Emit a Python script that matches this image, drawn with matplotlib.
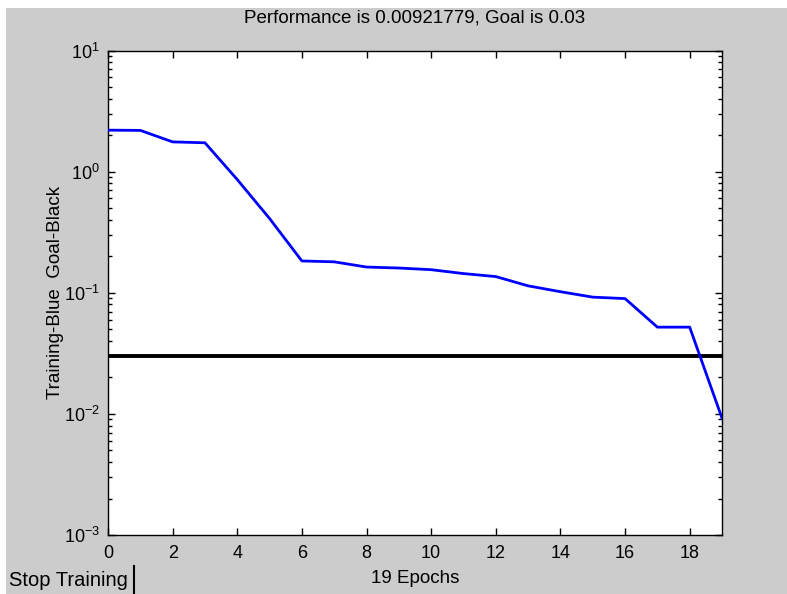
import matplotlib
matplotlib.use("Agg")
import matplotlib.pyplot as plt
from matplotlib.patches import Rectangle
from matplotlib.lines import Line2D
import matplotlib.ticker as mticker
from matplotlib import font_manager

# ---- data ----
epochs = list(range(0, 20))
performance = [2.20, 2.19, 1.76, 1.73, 0.86, 0.41, 0.183, 0.180, 0.163, 0.160,
               0.155, 0.144, 0.136, 0.114, 0.102, 0.092, 0.0895, 0.052, 0.052, 0.00921779]
goal = 0.03
xticks = [0, 2, 4, 6, 8, 10, 12, 14, 16, 18]
title_text = "Performance is 0.00921779, Goal is 0.03"
ylabel_text = "Training-Blue  Goal-Black"
xlabel_text = "19 Epochs"
button_text = "Stop Training"

avail = {f.name for f in font_manager.fontManager.ttflist}
fam = "Liberation Sans Narrow" if "Liberation Sans Narrow" in avail else "Liberation Sans"
plt.rcParams['font.family'] = [fam, 'DejaVu Sans']

W, H = 787, 594
gray = "#cccccc"
fig = plt.figure(figsize=(W / 100, H / 100), dpi=100, facecolor=gray)
# white border strips at top and left
fig.add_artist(Rectangle((0, 1 - 8 / H), 1, 8 / H, transform=fig.transFigure,
                         facecolor="white", edgecolor="none"))
fig.add_artist(Rectangle((0, 0), 6 / W, 1, transform=fig.transFigure,
                         facecolor="white", edgecolor="none"))

ax = fig.add_axes([108 / W, 59 / H, 614 / W, 484.5 / H])
ax.set_facecolor("white")
ax.plot(epochs, performance, color="#0000ff", lw=2.0, zorder=3)
ax.axhline(goal, color="black", lw=2.8, zorder=2)
ax.set_yscale("log")
ax.set_ylim(1e-3, 1e1)
ax.set_xlim(0, 19)
ax.set_xticks(xticks)
ax.set_xticklabels([str(t) for t in xticks])
ax.yaxis.set_major_locator(mticker.LogLocator(base=10, numticks=10))
ax.yaxis.set_minor_locator(mticker.LogLocator(base=10, subs=range(2, 10), numticks=20))
ax.yaxis.set_minor_formatter(mticker.NullFormatter())
ax.tick_params(which="both", direction="in", top=True, right=True, labelsize=13, colors="black")
ax.tick_params(which="major", length=5, width=1)
ax.tick_params(axis="x", which="major", pad=7)
ax.tick_params(axis="y", which="major", pad=6)
ax.tick_params(which="minor", length=3, width=1)
for s in ax.spines.values():
    s.set_linewidth(1.0)
fig.text(0.5 * (108 + 722) / W, 1 - 18 / H, title_text, fontsize=13.5, ha="center", va="center")
ax.set_xlabel(xlabel_text, fontsize=13.5, labelpad=6)
ax.set_ylabel(ylabel_text, fontsize=13.5, labelpad=0)

# Stop Training button
fig.text(9 / W, 1 - 580 / H, button_text, fontsize=14.5, ha="left", va="center")
fig.add_artist(Line2D([134 / W, 134 / W], [0, 1 - 566 / H],
                      transform=fig.transFigure, color="black", lw=1.5))

fig.savefig("out.png", dpi=100, facecolor=fig.get_facecolor())
